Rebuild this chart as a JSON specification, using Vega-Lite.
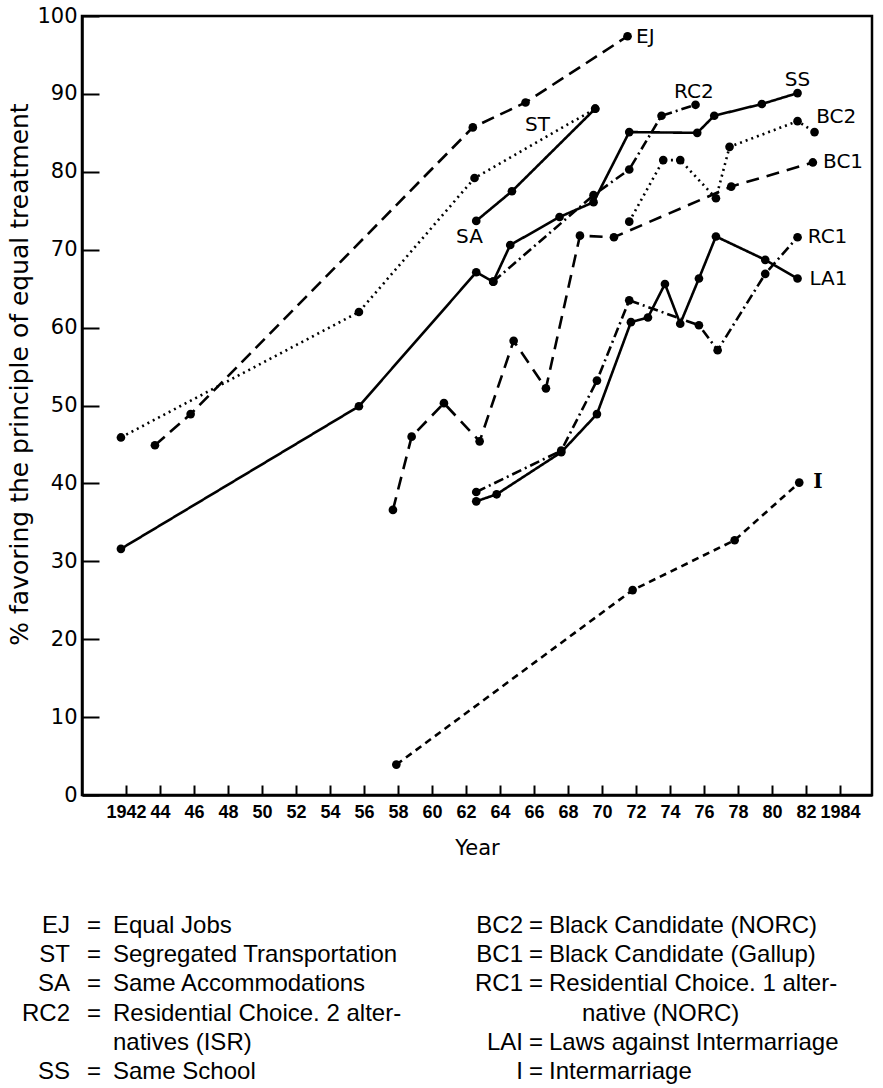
{
  "$schema": "https://vega.github.io/schema/vega-lite/v6.json",
  "width": 790,
  "height": 779,
  "autosize": {"type": "none"},
  "padding": {"left": 82, "top": 16, "right": 11, "bottom": 293},
  "background": "white",
  "config": {
    "view": {"stroke": "black", "strokeWidth": 2.5},
    "axis": {"domainColor": "black", "domainWidth": 2.5, "tickColor": "black", "tickWidth": 2, "labelColor": "black", "titleColor": "black", "grid": false, "labelOverlap": false}
  },
  "datasets": {
    "series": [
      {"s": "EJ", "year": 1943.7, "pct": 44.9}, {"s": "EJ", "year": 1945.8, "pct": 48.9}, {"s": "EJ", "year": 1962.4, "pct": 85.7}, {"s": "EJ", "year": 1965.5, "pct": 88.9}, {"s": "EJ", "year": 1971.5, "pct": 97.4},
      {"s": "ST", "year": 1941.7, "pct": 45.9}, {"s": "ST", "year": 1955.7, "pct": 62.0}, {"s": "ST", "year": 1962.5, "pct": 79.2}, {"s": "ST", "year": 1969.6, "pct": 88.1},
      {"s": "SA", "year": 1962.6, "pct": 73.7}, {"s": "SA", "year": 1964.7, "pct": 77.5}, {"s": "SA", "year": 1969.6, "pct": 88.1},
      {"s": "SS", "year": 1941.7, "pct": 31.6}, {"s": "SS", "year": 1955.7, "pct": 49.9}, {"s": "SS", "year": 1962.6, "pct": 67.1}, {"s": "SS", "year": 1963.6, "pct": 65.9}, {"s": "SS", "year": 1964.6, "pct": 70.6}, {"s": "SS", "year": 1967.5, "pct": 74.2}, {"s": "SS", "year": 1969.5, "pct": 76.1}, {"s": "SS", "year": 1971.6, "pct": 85.1}, {"s": "SS", "year": 1975.6, "pct": 85.0}, {"s": "SS", "year": 1976.6, "pct": 87.2}, {"s": "SS", "year": 1979.4, "pct": 88.7}, {"s": "SS", "year": 1981.5, "pct": 90.1},
      {"s": "RC2", "year": 1963.6, "pct": 65.9}, {"s": "RC2", "year": 1969.5, "pct": 77.0}, {"s": "RC2", "year": 1971.6, "pct": 80.3}, {"s": "RC2", "year": 1973.5, "pct": 87.2}, {"s": "RC2", "year": 1975.5, "pct": 88.6},
      {"s": "BC2", "year": 1971.6, "pct": 73.6}, {"s": "BC2", "year": 1973.6, "pct": 81.5}, {"s": "BC2", "year": 1974.6, "pct": 81.5}, {"s": "BC2", "year": 1976.7, "pct": 76.6}, {"s": "BC2", "year": 1977.5, "pct": 83.2}, {"s": "BC2", "year": 1981.5, "pct": 86.5}, {"s": "BC2", "year": 1982.5, "pct": 85.1},
      {"s": "BC1", "year": 1957.7, "pct": 36.6}, {"s": "BC1", "year": 1958.8, "pct": 46.0}, {"s": "BC1", "year": 1960.7, "pct": 50.3}, {"s": "BC1", "year": 1962.8, "pct": 45.4}, {"s": "BC1", "year": 1964.8, "pct": 58.3}, {"s": "BC1", "year": 1966.7, "pct": 52.2}, {"s": "BC1", "year": 1968.7, "pct": 71.8}, {"s": "BC1", "year": 1970.7, "pct": 71.6}, {"s": "BC1", "year": 1977.6, "pct": 78.1}, {"s": "BC1", "year": 1982.4, "pct": 81.2},
      {"s": "RC1", "year": 1962.6, "pct": 38.9}, {"s": "RC1", "year": 1967.6, "pct": 44.2}, {"s": "RC1", "year": 1969.7, "pct": 53.2}, {"s": "RC1", "year": 1971.6, "pct": 63.5}, {"s": "RC1", "year": 1975.7, "pct": 60.3}, {"s": "RC1", "year": 1976.8, "pct": 57.1}, {"s": "RC1", "year": 1979.6, "pct": 66.9}, {"s": "RC1", "year": 1981.5, "pct": 71.6},
      {"s": "LA1", "year": 1962.6, "pct": 37.7}, {"s": "LA1", "year": 1963.8, "pct": 38.6}, {"s": "LA1", "year": 1967.6, "pct": 44.0}, {"s": "LA1", "year": 1969.7, "pct": 48.9}, {"s": "LA1", "year": 1971.7, "pct": 60.7}, {"s": "LA1", "year": 1972.7, "pct": 61.3}, {"s": "LA1", "year": 1973.7, "pct": 65.6}, {"s": "LA1", "year": 1974.6, "pct": 60.5}, {"s": "LA1", "year": 1975.7, "pct": 66.3}, {"s": "LA1", "year": 1976.7, "pct": 71.7}, {"s": "LA1", "year": 1979.6, "pct": 68.7}, {"s": "LA1", "year": 1981.5, "pct": 66.3},
      {"s": "I", "year": 1957.9, "pct": 3.9}, {"s": "I", "year": 1971.8, "pct": 26.3}, {"s": "I", "year": 1977.8, "pct": 32.7}, {"s": "I", "year": 1981.6, "pct": 40.1}
    ],
    "endLabels": [
      {"label": "EJ", "year": 1972.0, "pct": 97.3},
      {"label": "BC2", "year": 1982.6, "pct": 87.0},
      {"label": "BC1", "year": 1983.0, "pct": 81.2},
      {"label": "RC1", "year": 1982.1, "pct": 71.6},
      {"label": "LA1", "year": 1982.2, "pct": 66.2}
    ],
    "midLabels": [
      {"label": "ST", "year": 1966.2, "pct": 86.0},
      {"label": "SA", "year": 1962.2, "pct": 71.6},
      {"label": "RC2", "year": 1975.4, "pct": 90.2},
      {"label": "SS", "year": 1981.5, "pct": 91.8}
    ],
    "iLabel": [
      {"label": "I", "year": 1982.7, "pct": 40.2}
    ],
    "key": [
      {"col": "L", "line": 1, "code": "EJ", "desc": "Equal Jobs"},
      {"col": "L", "line": 2, "code": "ST", "desc": "Segregated Transportation"},
      {"col": "L", "line": 3, "code": "SA", "desc": "Same Accommodations"},
      {"col": "L", "line": 4, "code": "RC2", "desc": "Residential Choice. 2 alter-"},
      {"col": "L", "line": 5, "code": "", "desc": "natives (ISR)"},
      {"col": "L", "line": 6, "code": "SS", "desc": "Same School"},
      {"col": "R", "line": 1, "code": "BC2", "desc": "Black Candidate (NORC)"},
      {"col": "R", "line": 2, "code": "BC1", "desc": "Black Candidate (Gallup)"},
      {"col": "R", "line": 3, "code": "RC1", "desc": "Residential Choice. 1 alter-"},
      {"col": "R", "line": 4, "code": "", "desc": "native (NORC)"},
      {"col": "R", "line": 5, "code": "LAI", "desc": "Laws against Intermarriage"},
      {"col": "R", "line": 6, "code": "I", "desc": "Intermarriage"}
    ]
  },
  "layer": [
    {
      "encoding": {
        "x": {"field": "year", "type": "quantitative",
          "scale": {"domain": [1939.41, 1985.88], "nice": false, "zero": false},
          "axis": {"values": [1942, 1944, 1946, 1948, 1950, 1952, 1954, 1956, 1958, 1960, 1962, 1964, 1966, 1968, 1970, 1972, 1974, 1976, 1978, 1980, 1982, 1984],
            "format": "d",
            "labelExpr": "(datum.value == 1942 || datum.value == 1984) ? datum.label : slice(datum.label, 2)",
            "labelOverlap": false,
            "tickSize": -10, "labelPadding": 18,
            "labelFont": "Liberation Sans", "labelFontSize": 18, "labelFontWeight": "bold",
            "title": "Year", "titleFont": "DejaVu Sans", "titleFontSize": 21, "titleFontWeight": "normal",
            "titleBaseline": "top", "titleY": 42}},
        "y": {"field": "pct", "type": "quantitative",
          "scale": {"domain": [0, 100], "nice": false, "zero": false},
          "axis": {"values": [0, 10, 20, 30, 40, 50, 60, 70, 80, 90, 100],
            "labelOverlap": false,
            "tickSize": -17, "labelPadding": 22,
            "labelFont": "DejaVu Sans", "labelFontSize": 21,
            "title": "% favoring the principle of equal treatment",
            "titleFont": "DejaVu Sans", "titleFontSize": 25, "titleFontWeight": "normal",
            "titleAngle": -90, "titleBaseline": "bottom", "titleX": -50, "titleY": 358}}
      },
      "layer": [
        {
          "data": {"name": "series"},
          "mark": {"type": "line", "color": "black", "strokeWidth": 2.6},
          "encoding": {
            "strokeDash": {"field": "s", "type": "nominal",
              "scale": {"domain": ["EJ", "ST", "SA", "SS", "RC2", "BC2", "BC1", "RC1", "LA1", "I"],
                "range": [[13, 7], [2, 4], [1, 0], [1, 0], [10, 4, 2, 4], [2, 4], [13, 8], [10, 4, 2, 4], [1, 0], [7, 5]]},
              "legend": null},
            "order": {"field": "year", "type": "quantitative"}
          }
        },
        {
          "data": {"name": "series"},
          "mark": {"type": "circle", "color": "black", "opacity": 1, "size": 75}
        },
        {
          "data": {"name": "endLabels"},
          "mark": {"type": "text", "align": "left", "baseline": "middle", "font": "DejaVu Sans", "fontSize": 20, "color": "black"},
          "encoding": {"text": {"field": "label"}}
        },
        {
          "data": {"name": "midLabels"},
          "mark": {"type": "text", "align": "center", "baseline": "middle", "font": "DejaVu Sans", "fontSize": 20, "color": "black"},
          "encoding": {"text": {"field": "label"}}
        },
        {
          "data": {"name": "iLabel"},
          "mark": {"type": "text", "align": "center", "baseline": "middle", "font": "DejaVu Serif", "fontSize": 20, "fontWeight": "bold", "color": "black"},
          "encoding": {"text": {"field": "label"}}
        }
      ]
    },
    {
      "data": {"name": "key"},
      "transform": [{"filter": "datum.code != ''"}],
      "mark": {"type": "text", "align": "right", "baseline": "middle", "font": "Liberation Sans", "fontSize": 24, "color": "black"},
      "encoding": {
        "x": {"field": "col", "type": "nominal", "scale": {"type": "point", "domain": ["L", "R"], "range": [-12, 441], "padding": 0}, "axis": null},
        "y": {"field": "line", "type": "quantitative", "scale": {"domain": [1, 6], "range": [910, 1056], "nice": false, "zero": false}, "axis": null},
        "text": {"field": "code"}
      }
    },
    {
      "data": {"name": "key"},
      "transform": [{"filter": "datum.code != ''"}],
      "mark": {"type": "text", "align": "center", "baseline": "middle", "font": "Liberation Sans", "fontSize": 24, "color": "black"},
      "encoding": {
        "x": {"field": "col", "type": "nominal", "scale": {"type": "point", "domain": ["L", "R"], "range": [12, 454], "padding": 0}, "axis": null},
        "y": {"field": "line", "type": "quantitative", "scale": {"domain": [1, 6], "range": [910, 1056], "nice": false, "zero": false}, "axis": null},
        "text": {"value": "="}
      }
    },
    {
      "data": {"name": "key"},
      "transform": [{"filter": "datum.code != ''"}],
      "mark": {"type": "text", "align": "left", "baseline": "middle", "font": "Liberation Sans", "fontSize": 24, "color": "black"},
      "encoding": {
        "x": {"field": "col", "type": "nominal", "scale": {"type": "point", "domain": ["L", "R"], "range": [31, 467], "padding": 0}, "axis": null},
        "y": {"field": "line", "type": "quantitative", "scale": {"domain": [1, 6], "range": [910, 1056], "nice": false, "zero": false}, "axis": null},
        "text": {"field": "desc"}
      }
    },
    {
      "data": {"name": "key"},
      "transform": [{"filter": "datum.code == ''"}],
      "mark": {"type": "text", "align": "left", "baseline": "middle", "font": "Liberation Sans", "fontSize": 24, "color": "black"},
      "encoding": {
        "x": {"field": "col", "type": "nominal", "scale": {"type": "point", "domain": ["L", "R"], "range": [31, 500], "padding": 0}, "axis": null},
        "y": {"field": "line", "type": "quantitative", "scale": {"domain": [1, 6], "range": [910, 1056], "nice": false, "zero": false}, "axis": null},
        "text": {"field": "desc"}
      }
    }
  ],
  "resolve": {"scale": {"x": "independent", "y": "independent"}}
}
